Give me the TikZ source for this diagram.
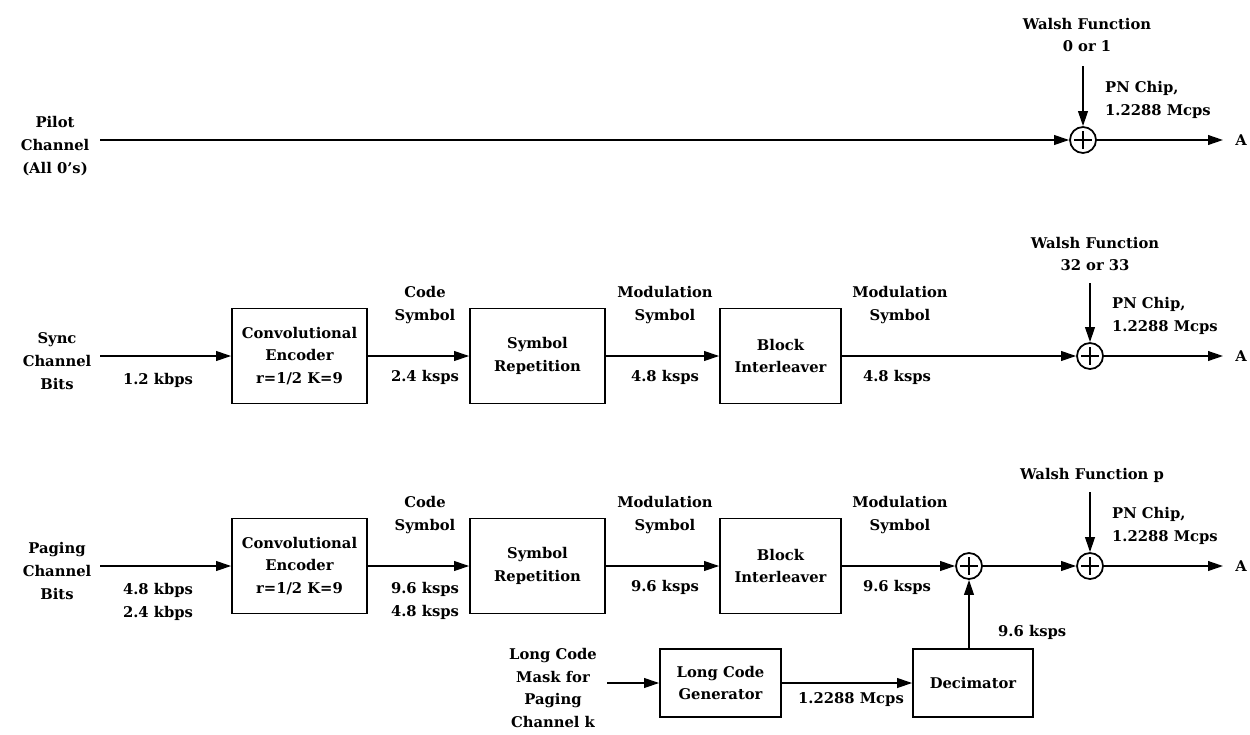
\documentclass[tikz,border=0pt]{standalone}
\usepackage{fontspec}
\setmainfont{DejaVu Serif}
\usetikzlibrary{positioning,arrows.meta}
\definecolor{inkblack}{RGB}{0,0,0}

\begin{document}
\begin{tikzpicture}[x=0.02cm,y=-0.02cm,
        every node/.style={text=inkblack,font=\bfseries\fontsize{8.4}{13}\selectfont,align=center},
        blockbox/.style={draw=inkblack,line width=1pt,minimum height=1.9cm},
        flow/.style={draw=inkblack,line width=1pt,-{Triangle[length=8.5pt,width=5.5pt]}},
        xorsum/.style={circle,draw=inkblack,line width=1pt,minimum size=0.52cm,inner sep=0pt,
              path picture={\draw[line width=0.9pt]
                (path picture bounding box.center) +(-9,0) -- +(9,0)
                (path picture bounding box.center) +(0,-9) -- +(0,9);}}]
        \useasboundingbox (0,0) rectangle (1250,734);

        \node (pilot) at (55,146) {Pilot\\Channel\\(All 0's)};
        \coordinate (pilotin) at (100,140);
        \node[xorsum] (pilotsum) at (1083,140) {};
        \coordinate (pilotout) at (1223,140);
        \node (pilotA) at (1241,140) {A};
        \node (pilotwalsh) at (1087,35) {Walsh Function\\0 or 1};
        \coordinate (pilotwtop) at (1083,66);
        \node[anchor=west,align=left] (pilotpn) at (1099,100) {PN Chip,\\1.2288 Mcps};
        \draw[flow] (pilotin) -- (pilotsum);
        \draw[flow] (pilotwtop) -- (pilotsum);
        \draw[flow] (pilotsum) -- (pilotout);

        \node (sync) at (57,361) {Sync\\Channel\\Bits};
        \coordinate (syncin) at (100,356);
        \node[blockbox,minimum width=2.7cm] (syncenc) at (299.5,356) {Convolutional\\Encoder\\r=1/2 K=9};
        \node[blockbox,minimum width=2.7cm] (syncrep) at (537.5,356) {Symbol\\Repetition};
        \node[blockbox,minimum width=2.42cm] (syncbil) at (780.5,356) {Block\\Interleaver};
        \node[xorsum] (syncsum) at (1090,356) {};
        \coordinate (syncout) at (1223,356);
        \node (syncA) at (1241,356) {A};
        \node (syncrate) at (158,380) {1.2 kbps};
        \node (synccode) at (425,305) {Code\\Symbol};
        \node (synccoderate) at (425,377) {2.4 ksps};
        \node (syncmod) at (665,305) {Modulation\\Symbol};
        \node (syncmodrate) at (665,377) {4.8 ksps};
        \node (syncmodb) at (900,305) {Modulation\\Symbol};
        \node (syncmodbrate) at (897,377) {4.8 ksps};
        \node (syncwalsh) at (1095,254) {Walsh Function\\32 or 33};
        \coordinate (syncwtop) at (1090,283);
        \node[anchor=west,align=left] (syncpn) at (1106,316) {PN Chip,\\1.2288 Mcps};
        \draw[flow] (syncin) -- (syncenc);
        \draw[flow] (syncenc) -- (syncrep);
        \draw[flow] (syncrep) -- (syncbil);
        \draw[flow] (syncbil) -- (syncsum);
        \draw[flow] (syncwtop) -- (syncsum);
        \draw[flow] (syncsum) -- (syncout);

        \node (paging) at (57,571) {Paging\\Channel\\Bits};
        \coordinate (pagingin) at (100,566);
        \node[blockbox,minimum width=2.7cm] (pagingenc) at (299.5,566) {Convolutional\\Encoder\\r=1/2 K=9};
        \node[blockbox,minimum width=2.7cm] (pagingrep) at (537.5,566) {Symbol\\Repetition};
        \node[blockbox,minimum width=2.42cm] (pagingbil) at (780.5,566) {Block\\Interleaver};
        \node[xorsum] (pagingmix) at (969,566) {};
        \node[xorsum] (pagingsum) at (1090,566) {};
        \coordinate (pagingout) at (1223,566);
        \node (pagingA) at (1241,566) {A};
        \node (pagingrate) at (158,602) {4.8 kbps\\2.4 kbps};
        \node (pagingcode) at (425,515) {Code\\Symbol};
        \node (pagingcoderate) at (425,601) {9.6 ksps\\4.8 ksps};
        \node (pagingmod) at (665,515) {Modulation\\Symbol};
        \node (pagingmodrate) at (665,587) {9.6 ksps};
        \node (pagingmodb) at (900,515) {Modulation\\Symbol};
        \node (pagingmodbrate) at (897,587) {9.6 ksps};
        \node (pagingwalsh) at (1092,475) {Walsh Function p};
        \coordinate (pagingwtop) at (1090,492);
        \node[anchor=west,align=left] (pagingpn) at (1106,526) {PN Chip,\\1.2288 Mcps};

        \node (mask) at (553,688) {Long Code\\Mask for\\Paging\\Channel k};
        \coordinate (maskout) at (607,683);
        \node[blockbox,minimum width=2.42cm,minimum height=1.36cm] (longcode) at (720.5,683) {Long Code\\Generator};
        \node[blockbox,minimum width=2.4cm,minimum height=1.36cm] (decim) at (973,683) {Decimator};
        \node (chiprate) at (851,700) {1.2288 Mcps};
        \node[anchor=west] (decimrate) at (992,632) {9.6 ksps};

        \draw[flow] (pagingin) -- (pagingenc);
        \draw[flow] (pagingenc) -- (pagingrep);
        \draw[flow] (pagingrep) -- (pagingbil);
        \draw[flow] (pagingbil) -- (pagingmix);
        \draw[flow] (pagingmix) -- (pagingsum);
        \draw[flow] (pagingwtop) -- (pagingsum);
        \draw[flow] (pagingsum) -- (pagingout);
        \draw[flow] (maskout) -- (longcode);
        \draw[flow] (longcode) -- (decim);
        \draw[flow] (pagingmix |- decim.north) -- (pagingmix);
      \end{tikzpicture}
\end{document}
